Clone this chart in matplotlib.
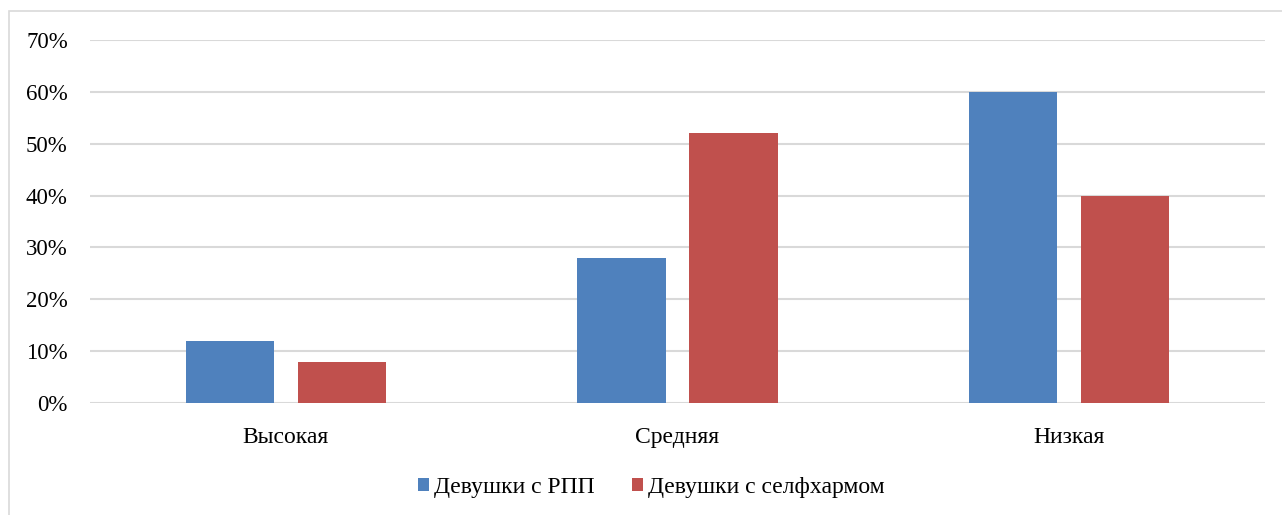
import matplotlib.pyplot as plt
import numpy as np
from matplotlib.patches import Rectangle

categories = ["Высокая", "Средняя", "Низкая"]
series_names = ["Девушки с РПП", "Девушки с селфхармом"]
rpp = [12, 28, 60]
selfharm = [8, 52, 40]
yticks = [0, 10, 20, 30, 40, 50, 60, 70]

plt.rcParams["font.family"] = ["Liberation Serif", "DejaVu Serif"]

fig = plt.figure(figsize=(12.82, 5.15), dpi=100)
ax = fig.add_axes([0.0702, 0.2175, 0.9165, 0.7048])

x = np.arange(len(categories))
w = 0.225
ax.bar(x - 0.143, rpp, w, color="#4f81bd", label=series_names[0], zorder=3)
ax.bar(x + 0.143, selfharm, w, color="#c0504d", label=series_names[1], zorder=3)

ax.set_xlim(-0.5, 2.5)
ax.set_ylim(0, 70)
ax.set_yticks(yticks)
ax.set_yticklabels([f"{t}%" for t in yticks])
ax.set_xticks(x)
ax.set_xticklabels(categories)
ax.grid(axis="y", color="#d9d9d9", linewidth=1.5, zorder=0)
for s in ax.spines.values():
    s.set_visible(False)
ax.tick_params(length=0, labelsize=17)
ax.tick_params(axis="y", labelsize=16.5, pad=16)
ax.tick_params(axis="x", pad=17)

leg = fig.legend(loc="center", bbox_to_anchor=(0.508, 0.053), ncol=2, frameon=False,
                 fontsize=17, handlelength=0.47, handleheight=0.47, handletextpad=0.2,
                 columnspacing=1.6)

# chart border
fig.patches.append(Rectangle((9 / 1282, -0.1), 1.2, 1 - 11 / 515 + 0.1,
                             transform=fig.transFigure, fill=False,
                             edgecolor="#d9d9d9", linewidth=1.2))

fig.savefig("out.png", dpi=100)
